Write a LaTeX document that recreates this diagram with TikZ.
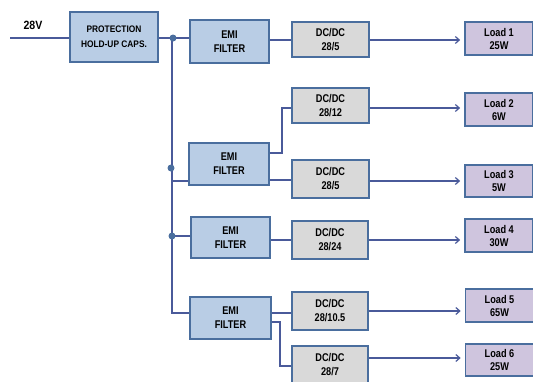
\documentclass[tikz,border=0pt]{standalone}
\usepackage{fontspec}
\setmainfont{Liberation Sans}
\newfontfamily\nfont[FakeStretch=0.82]{Liberation Sans}
\newfontfamily\pfont[FakeStretch=0.88]{Liberation Sans}
\usetikzlibrary{arrows.meta}
\definecolor{wire}{HTML}{4A5A9A}
\definecolor{bord}{HTML}{4A6E9E}
\definecolor{bluef}{HTML}{B9CDE5}
\definecolor{greyf}{HTML}{D9D9D9}
\definecolor{lavf}{HTML}{CFC5DE}
\tikzset{
  x=1pt,y=-1pt,
  boxbase/.style={draw=bord,line width=1.6pt,inner sep=0pt,align=center,font=\nfont\bfseries\fontsize{11.2}{14}\selectfont},
  bluebox/.style={boxbase,fill=bluef},
  greybox/.style={boxbase,fill=greyf},
  loadbox/.style={boxbase,fill=lavf,font=\nfont\bfseries\fontsize{11.2}{13}\selectfont},
  wireline/.style={draw=wire,line width=1.2pt},
  arr/.style={wireline,-{Straight Barb[length=4pt,width=7pt]}},
  dotn/.style={circle,fill=bord,inner sep=0pt,minimum size=7pt},
}
\begin{document}
\begin{tikzpicture}
\useasboundingbox (0,0) rectangle (533,381);
\clip (0,0) rectangle (533,381);
% boxes (node at centre, size)
\node[bluebox,minimum width=88,minimum height=50,font=\pfont\bfseries\fontsize{9.5}{15}\selectfont] (prot) at (114,37) {PROTECTION\\HOLD-UP CAPS.};
\node[bluebox,minimum width=79,minimum height=43] (emi1) at (229.5,41.5) {EMI\\FILTER};
\node[bluebox,minimum width=80,minimum height=42] (emi2) at (229,164) {EMI\\FILTER};
\node[bluebox,minimum width=79,minimum height=41] (emi3) at (230.5,237.5) {EMI\\FILTER};
\node[bluebox,minimum width=81,minimum height=42] (emi4) at (230.5,318) {EMI\\FILTER};
\node[greybox,minimum width=77,minimum height=35] (dc1) at (330.5,39.5) {DC/DC\\28/5};
\node[greybox,minimum width=77,minimum height=35] (dc2) at (330.5,105.5) {DC/DC\\28/12};
\node[greybox,minimum width=77,minimum height=38] (dc3) at (330.5,179) {DC/DC\\28/5};
\node[greybox,minimum width=76,minimum height=38] (dc4) at (330,240) {DC/DC\\28/24};
\node[greybox,minimum width=76,minimum height=38] (dc5) at (330,311) {DC/DC\\28/10.5};
\node[greybox,minimum width=76,minimum height=38] (dc6) at (330,365) {DC/DC\\28/7};
\node[loadbox,minimum width=68,minimum height=33] (l1) at (499,38.5) {Load 1\\25W};
\node[loadbox,minimum width=68,minimum height=33] (l2) at (499,109.5) {Load 2\\6W};
\node[loadbox,minimum width=68,minimum height=32] (l3) at (499,181) {Load 3\\5W};
\node[loadbox,minimum width=68,minimum height=33] (l4) at (499,235.5) {Load 4\\30W};
\node[loadbox,minimum width=68,minimum height=33] (l5) at (499.5,305.5) {Load 5\\65W};
\node[loadbox,minimum width=68,minimum height=32] (l6) at (499.5,360) {Load 6\\25W};
% input
\node[font=\pfont\bfseries\fontsize{12}{14}\selectfont] (v28) at (33,25) {28V};
\coordinate (in) at (10,38);
\draw[wireline] (in) -- (prot.west |- in);
% bus
\coordinate (j1) at (173,38);
\coordinate (j2) at (171,168);
\coordinate (j3) at (172,236);
\coordinate (jb) at (172,313);
\draw[wireline] (prot.east |- j1) -- (j1) -- (emi1.west |- j1);
\draw[wireline] (j1) -- (172,38) -- (jb) -- (emi4.west |- jb);
\draw[wireline] (172,181) -- (emi2.west |- 0,181);
\draw[wireline] (j3) -- (emi3.west |- j3);
\node[dotn] (d1) at (j1) {};
\node[dotn] (d2) at (j2) {};
\node[dotn] (d3) at (j3) {};
% EMI to DC/DC
\draw[wireline] (emi1.east |- 0,40) -- (dc1.west |- 0,40);
\draw[wireline] (emi2.east |- 0,153) -- (282,153) -- (282,108) -- (dc2.west |- 0,108);
\draw[wireline] (emi2.east |- 0,180) -- (dc3.west |- 0,180);
\draw[wireline] (emi3.east |- dc4) -- (dc4.west);
\draw[wireline] (emi4.east |- 0,313) -- (dc5.west |- 0,313);
\draw[wireline] (emi4.east |- 0,322) -- (280,322) -- (280,366) -- (dc6.west |- 0,366);
% DC/DC to loads
\draw[arr] (dc1.east |- 0,40) -- ([xshift=-4pt]l1.west |- 0,40);
\draw[arr] (dc2.east |- 0,108) -- ([xshift=-4pt]l2.west |- 0,108);
\draw[arr] (dc3.east |- 0,181) -- ([xshift=-4pt]l3.west |- 0,181);
\draw[arr] (dc4.east |- 0,240) -- ([xshift=-4pt]l4.west |- 0,240);
\draw[arr] (dc5.east |- 0,311) -- ([xshift=-4pt]l5.west |- 0,311);
\draw[arr] (dc6.east |- 0,358) -- ([xshift=-4pt]l6.west |- 0,358);
\end{tikzpicture}
\end{document}
